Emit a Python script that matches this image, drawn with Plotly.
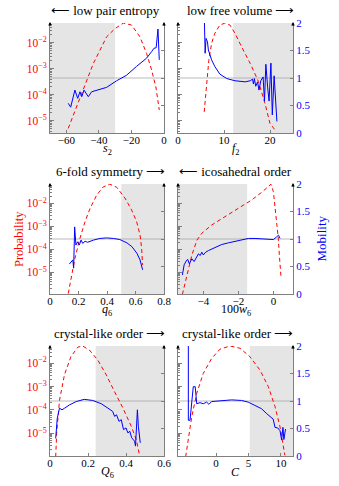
import plotly.graph_objects as go

# ---------------- data ----------------
# panel 1: s2
s2_prob_x = [-58.8, -53.6, -48.5, -43.4, -39.3, -35.2, -30.1, -25.0, -19.9, -14.8, -10.7, -7.6, -5.0, -2.9]
s2_prob_y = [5.1e-6, 3.5e-5, 2.75e-4, 1.6e-3, 5.2e-3, 1.7e-2, 3.5e-2, 5.7e-2, 4.8e-2, 1.7e-2, 3.9e-3, 8.9e-4, 2.0e-4, 2.6e-5]
s2_mob_x = [-58.8, -57.3, -54.7, -53.0, -51.6, -50.5, -49.1, -46.5, -44.4, -39.3, -35.2, -29.1, -23.0, -16.9, -10.7, -7.6, -6.2, -4.8, -3.7, -2.9]
s2_mob_y = [0.54, 0.47, 0.78, 0.63, 0.75, 0.66, 0.78, 0.66, 0.75, 0.79, 0.83, 0.95, 1.05, 1.21, 1.36, 1.48, 1.54, 1.55, 1.89, 1.33]

# panel 2: f2
f2_prob_x = [5.7, 6.2, 6.7, 7.3, 8.0, 9.1, 10.1, 11.3, 12.4, 13.8, 15.7, 17.5, 18.9, 20.0, 21.1]
f2_prob_y = [2.2e-5, 2.75e-4, 2.1e-3, 9.5e-3, 2.3e-2, 4.8e-2, 5.6e-2, 4.8e-2, 2.3e-2, 7.1e-3, 1.6e-3, 3.2e-4, 4.7e-5, 7.9e-6, 4.4e-6]
f2_mob_x = [5.7, 5.9, 6.1, 6.4, 6.6, 7.0, 7.3, 8.0, 9.1, 10.6, 12.4, 14.6, 15.7, 16.2, 16.4, 16.6, 16.9, 17.3, 17.6, 18.0,
            18.2, 18.5, 18.8, 19.1, 19.5, 19.8, 20.2, 20.5, 20.9, 21.2, 21.5]
f2_mob_y = [2.2, 1.45, 1.72, 1.66, 1.51, 1.39, 1.33, 1.21, 1.07, 0.99, 0.95, 0.93, 0.95, 0.98, 0.89, 0.99, 0.85, 0.93, 0.78, 0.95,
            0.98, 1.02, 0.58, 1.25, 0.82, 0.58, 1.27, 0.33, 1.04, 0.57, 0.21]

# panel 3: q6
q6_prob_x = [0.128, 0.152, 0.175, 0.21, 0.246, 0.281, 0.328, 0.374, 0.42, 0.468, 0.526, 0.573, 0.608, 0.632, 0.643, 0.65]
q6_prob_y = [1.2e-6, 7.6e-6, 4.1e-5, 3.0e-4, 1.6e-3, 6.0e-3, 2.3e-2, 5.2e-2, 6.8e-2, 5.0e-2, 1.7e-2, 5.1e-3, 1.6e-3, 4.2e-4, 1.1e-4, 2.1e-5]
q6_mob_x = [0.136, 0.152, 0.16, 0.166, 0.173, 0.182, 0.194, 0.206, 0.218, 0.23, 0.246, 0.263, 0.28, 0.305, 0.35, 0.398,
            0.445, 0.49, 0.54, 0.575, 0.61, 0.632, 0.65]
q6_mob_y = [0.545, 0.59, 0.62, 0.47, 1.22, 0.89, 0.95, 0.89, 0.98, 0.92, 0.96, 0.94, 0.96, 0.98, 1.01, 1.02,
            1.01, 0.99, 0.93, 0.86, 0.74, 0.62, 0.44]

# panel 4: 100 w6
w6_prob_x = [-5.2, -4.95, -4.66, -4.37, -4.09, -3.52, -2.76, -2.0, -1.24, -0.67, -0.14, 0.0, 0.09, 0.2, 0.28, 0.34, 0.44]
w6_prob_y = [1.1e-6, 7.6e-6, 5.6e-5, 2.5e-4, 5.0e-4, 1.15e-3, 2.6e-3, 6.0e-3, 1.4e-2, 3.0e-2, 6.8e-2, 3.2e-2, 8.5e-3,
             1.26e-3, 3.0e-4, 5.6e-5, 5.5e-6]
w6_mob_x = [-5.2, -5.1, -4.98, -4.9, -4.8, -4.66, -4.53, -4.37, -4.28, -4.18, -4.09, -4.0, -3.87, -3.71, -3.33, -2.95,
            -2.57, -2.19, -1.81, -1.43, -1.05, -0.48, 0.0, 0.19, 0.29, 0.38]
w6_mob_y = [0.345, 0.53, 0.6, 0.63, 0.55, 0.64, 0.59, 0.7, 0.73, 0.7, 0.76, 0.71, 0.76, 0.79, 0.85, 0.9,
            0.93, 0.96, 0.99, 1.01, 1.01, 1.0, 0.99, 1.04, 1.07, 1.01]

# panel 5: Q6
Q6_prob_x = [0.03, 0.035, 0.05, 0.076, 0.11, 0.146, 0.172, 0.207, 0.251, 0.296, 0.34, 0.384, 0.429, 0.455, 0.469]
Q6_prob_y = [1.0e-6, 1.0e-5, 2.6e-4, 3.2e-3, 1.9e-2, 4.9e-2, 5.5e-2, 3.7e-2, 1.4e-2, 3.2e-3, 6.0e-4, 1.2e-4, 1.9e-5, 5.1e-6, 1.4e-6]
Q6_mob_x = [0.03, 0.035, 0.038, 0.05, 0.063, 0.077, 0.103, 0.138, 0.18, 0.225, 0.27, 0.305, 0.33, 0.34, 0.35, 0.363,
            0.375, 0.387, 0.4, 0.41, 0.42, 0.43, 0.445, 0.45, 0.46, 0.465, 0.475]
Q6_mob_y = [0.32, 0.65, 0.68, 0.87, 0.84, 0.87, 0.93, 0.99, 1.03, 1.01, 0.95, 0.87, 0.81, 0.72, 0.75, 0.63,
            0.66, 0.48, 0.51, 0.42, 0.45, 0.33, 0.27, 0.18, 0.84, 0.54, 0.24]

# panel 6: C
C_prob_x = [-4.67, -4.26, -3.74, -2.97, -1.96, -0.68, 0.6, 2.15, 3.7, 5.23, 6.77, 8.05, 9.08, 9.85, 10.35, 10.6]
C_prob_y = [1.0e-6, 7.1e-6, 5.1e-5, 5.1e-4, 3.7e-3, 1.6e-2, 4.0e-2, 5.5e-2, 4.4e-2, 1.9e-2, 5.1e-3, 1.0e-3, 1.4e-4,
            1.9e-5, 3.7e-6, 1.15e-6]
C_mob_x = [-4.26, -4.26, -4.0, -3.74, -3.5, -3.2, -2.97, -2.46, -1.96, -1.44, -1.1, -0.68, 0.85, 2.4, 3.93, 4.95,
           5.98, 7.0, 7.8, 8.46, 8.8, 9.08, 9.5, 9.85, 10.1, 10.3, 10.45, 10.7]
C_mob_y = [2.2, 0.65, 0.65, 0.95, 1.26, 1.26, 0.95, 0.97, 0.95, 0.98, 0.94, 0.99, 1.01, 1.02, 1.01, 0.98,
           0.92, 0.86, 0.77, 0.7, 0.67, 0.52, 0.51, 0.46, 0.29, 0.52, 0.3, 0.49]

panel_titles = ["⟵ low pair entropy", "low free volume ⟶", "6-fold symmetry ⟶",
                "⟵ icosahedral order", "crystal-like order ⟶", "crystal-like order ⟶"]
x_labels = ["<i>s</i><sub>2</sub>", "<i>f</i><sub>2</sub>", "<i>q</i><sub>6</sub>",
            "100<i>w</i><sub>6</sub>", "<i>Q</i><sub>6</sub>", "<i>C</i>"]
x_ranges = [[-70, 0], [0, 25], [0, 0.8], [-5.45, 1.12], [0, 0.6], [-5.85, 11.85]]
x_ticks = [[-60, -40, -20, 0], [0, 10, 20], [0, 0.2, 0.4, 0.6, 0.8], [-4, -2, 0], [0, 0.2, 0.4, 0.6], [0, 5, 10]]
x_ticktext = [["−60", "−40", "−20", "0"], ["0", "10", "20"], ["0", "0.2", "0.4", "0.6", "0.8"],
              ["−4", "−2", "0"], ["0", "0.2", "0.4", "0.6"], ["0", "5", "10"]]
shade = [[-70, -30], [12, 25], [0.5, 0.8], [-5.45, -1.5], [0.24, 0.6], [5.2, 11.85]]
log_ranges = [[-5.47, -1.24], [-5.47, -1.24], [-5.94, -1.16], [-5.94, -1.16], [-5.97, -1.26], [-5.97, -1.26]]
prob_ticks = [1e-5, 1e-4, 1e-3, 1e-2]
prob_ticktext = ["10<sup>−5</sup>", "10<sup>−4</sup>", "10<sup>−3</sup>", "10<sup>−2</sup>"]
mob_ticks = [0, 0.5, 1, 1.5, 2]
mob_ticktext = ["0", "0.5", "1", "1.5", "2"]

prob_x = [s2_prob_x, f2_prob_x, q6_prob_x, w6_prob_x, Q6_prob_x, C_prob_x]
prob_y = [s2_prob_y, f2_prob_y, q6_prob_y, w6_prob_y, Q6_prob_y, C_prob_y]
mob_x = [s2_mob_x, f2_mob_x, q6_mob_x, w6_mob_x, Q6_mob_x, C_mob_x]
mob_y = [s2_mob_y, f2_mob_y, q6_mob_y, w6_mob_y, Q6_mob_y, C_mob_y]

# ---------------- layout geometry (pixels) ----------------
W, H = 339, 486
col_px = [(50, 164), (178, 293)]
row_px = [(23, 133), (184, 294), (346, 456)]
title_cx = [105, 240, 110, 235, 109, 237]
FONT = "Liberation Serif"
AX = "#7f7f7f"
RED = "#ff0000"
BLUE = "#0000ff"

fig = go.Figure()
layout = dict(template="none", width=W, height=H, margin=dict(l=0, r=0, t=0, b=0, pad=0),
              autosize=False,
              paper_bgcolor="white", plot_bgcolor="rgba(0,0,0,0)", showlegend=False,
              font=dict(family=FONT, size=10, color="black"))
shapes, annotations = [], []

for i in range(6):
    r, c = divmod(i, 2)
    x0p, x1p = col_px[c]
    ytop, ybot = row_px[r]
    xd = [x0p / W, x1p / W]
    yd = [1 - ybot / H, 1 - ytop / H]
    xa = f"x{i + 1}" if i else "x"
    ya = f"y{i + 1}" if i else "y"
    yb = f"y{i + 7}"
    xkey = f"xaxis{i + 1}" if i else "xaxis"
    ykey = f"yaxis{i + 1}" if i else "yaxis"
    ybkey = f"yaxis{i + 7}"

    layout[xkey] = dict(domain=xd, anchor=ya, range=x_ranges[i], tickmode="array", automargin=False,
                        tickvals=x_ticks[i], ticktext=x_ticktext[i], showline=True, linecolor=AX,
                        linewidth=1, ticks="inside", ticklen=3, tickcolor=AX, showgrid=False,
                        ticklabelstandoff=-3,
                        zeroline=False, tickfont=dict(size=11, color="black"))
    layout[ykey] = dict(domain=yd, anchor=xa, type="log", range=log_ranges[i], tickmode="array",
                        automargin=False,
                        tickvals=prob_ticks, ticktext=prob_ticktext, showticklabels=(c == 0),
                        showline=True, linecolor=AX, linewidth=1, ticks="inside", ticklen=4,
                        tickcolor=AX, showgrid=False, zeroline=False,
                        minor=dict(ticks="inside", ticklen=2, tickcolor=AX, dtick="D1", showgrid=False),
                        tickfont=dict(size=11.5, color=RED))
    layout[ybkey] = dict(domain=yd, anchor=xa, overlaying=ya, side="right", range=[0, 2],
                         automargin=False,
                         tickmode="array", tickvals=mob_ticks, ticktext=mob_ticktext,
                         showticklabels=(c == 1), showline=True, linecolor=AX, linewidth=1,
                         ticks="inside", ticklen=3, tickcolor=AX, showgrid=False, zeroline=False,
                         tickfont=dict(size=11, color=BLUE))

    # shaded region
    shapes.append(dict(type="rect", xref=xa, yref=f"{ya} domain", x0=shade[i][0], x1=shade[i][1],
                       y0=0, y1=1, fillcolor="#e5e5e5", line=dict(width=0), layer="below"))
    # mobility = 1 reference line
    shapes.append(dict(type="line", xref=f"{xa} domain", yref=yb, x0=0, x1=1, y0=1, y1=1,
                       line=dict(color="#a8a8a8", width=0.8), layer="below"))

    fig.add_trace(go.Scatter(x=prob_x[i], y=prob_y[i], xaxis=xa, yaxis=ya, mode="lines",
                             line=dict(color=RED, width=1, dash="4px,3px")))
    fig.add_trace(go.Scatter(x=mob_x[i], y=mob_y[i], xaxis=xa, yaxis=yb, mode="lines",
                             line=dict(color=BLUE, width=1)))

    # arrow heads on top of vertical axis lines
    for xp in (x0p, x1p):
        annotations.append(dict(x=xp / W, y=1 - (ytop - 1) / H, xref="paper", yref="paper",
                                ax=0, ay=5, axref="pixel", ayref="pixel", text="", showarrow=True,
                                arrowhead=2, arrowsize=0.7, arrowwidth=1, arrowcolor="black"))
    # panel title
    annotations.append(dict(x=title_cx[i] / W, y=1 - (ytop - 13) / H, xref="paper", yref="paper",
                            text=panel_titles[i], showarrow=False, xanchor="center", yanchor="middle",
                            font=dict(size=13, color="black", family=FONT)))
    # x label
    annotations.append(dict(x=(x0p + x1p) / 2 / W, y=1 - (ybot + 16) / H, xref="paper", yref="paper",
                            text=x_labels[i], showarrow=False, xanchor="center", yanchor="middle",
                            font=dict(size=12, color="black", family=FONT)))

annotations.append(dict(x=10 / W, y=1 - 239 / H, xref="paper", yref="paper", text="Probability",
                        textangle=-90, showarrow=False, font=dict(size=12.5, color=RED, family=FONT)))
annotations.append(dict(x=330 / W, y=1 - 239 / H, xref="paper", yref="paper", text="Mobility",
                        textangle=-90, showarrow=False, font=dict(size=13, color=BLUE, family=FONT)))

layout["shapes"] = shapes
layout["annotations"] = annotations
fig.update_layout(**layout)
fig.write_html("out.html", config={"displayModeBar": False},
               post_script="document.body.style.margin='0';document.body.style.padding='0';")
